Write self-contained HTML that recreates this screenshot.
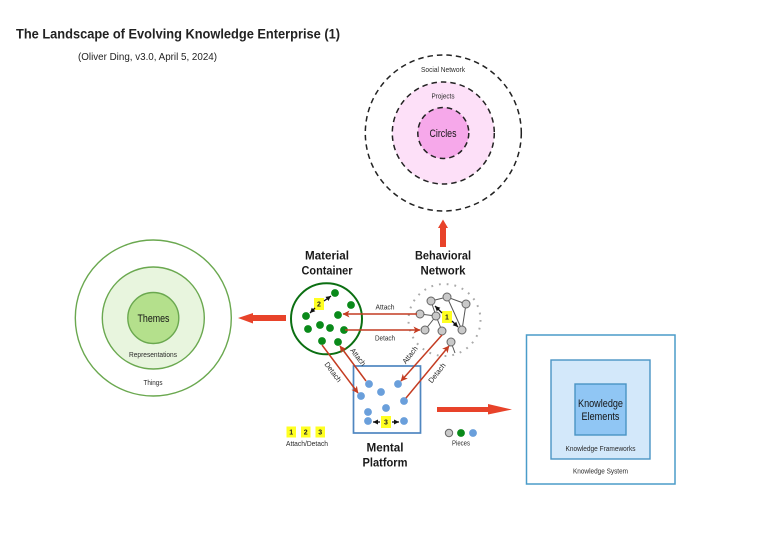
<!DOCTYPE html>
<html><head><meta charset="utf-8"><style>
html,body{margin:0;padding:0;background:#fff}
svg{display:block}
text{font-family:"Liberation Sans",sans-serif;fill:#222}
.h{font-weight:bold;font-size:12px;text-anchor:middle;fill:#1a1a1a}
.s{font-size:7.5px;text-anchor:middle;fill:#2a2a2a}
.c{font-size:11px;text-anchor:middle;fill:#151515}
.n{font-size:7px;text-anchor:middle;fill:#222;font-weight:bold}
.r{stroke:#c43c22;stroke-width:1.5;fill:none;marker-end:url(#ra)}
.b{stroke:#111;stroke-width:1.3;fill:none;marker-end:url(#ba)}
.e{stroke:#555;stroke-width:1;fill:none}
.gr{fill:#c9c9c9;stroke:#666;stroke-width:1}
</style></head><body>
<svg width="770" height="538" viewBox="0 0 770 538" xmlns="http://www.w3.org/2000/svg">
<defs>
<marker id="ra" markerWidth="8" markerHeight="8" refX="6.500" refY="3.500" orient="auto" markerUnits="userSpaceOnUse"><path d="M0,0L7,3.500L0,7L1.800,3.500Z" fill="#c43c22"/></marker>
<marker id="ba" markerWidth="6" markerHeight="6" refX="5" refY="2.500" orient="auto" markerUnits="userSpaceOnUse"><path d="M0,0L5,2.500L0,5Z" fill="#111"/></marker>
</defs>
<rect width="770" height="538" fill="#fff"/>

<text x="16" y="38.500" font-size="14" font-weight="bold" textLength="324" lengthAdjust="spacingAndGlyphs" fill="#111">The Landscape of Evolving Knowledge Enterprise (1)</text>
<text x="78" y="60" font-size="10.5" textLength="139" lengthAdjust="spacingAndGlyphs" fill="#333">(Oliver Ding, v3.0, April 5, 2024)</text>

<!-- top circles -->
<g stroke="#222" stroke-width="1.5" stroke-dasharray="5.500 4">
<circle cx="443.300" cy="133" r="78" fill="#fff"/>
<circle cx="443.300" cy="133" r="51" fill="#fde0f8"/>
<circle cx="443.300" cy="133" r="25.500" fill="#f6a8ea"/>
</g>
<text class="s" x="443" y="72" textLength="44" lengthAdjust="spacingAndGlyphs">Social Network</text>
<text class="s" x="443" y="98.500" textLength="23" lengthAdjust="spacingAndGlyphs">Projects</text>
<text class="c" x="443" y="137" textLength="27" lengthAdjust="spacingAndGlyphs">Circles</text>

<!-- left circles -->
<circle cx="153.300" cy="318" r="78" fill="#fff" stroke="#6aa84f" stroke-width="1.400"/>
<circle cx="153.300" cy="318" r="51" fill="#e8f5de" stroke="#6aa84f" stroke-width="1.400"/>
<circle cx="153.300" cy="318" r="25.500" fill="#b4e08c" stroke="#6aa84f" stroke-width="1.400"/>
<text class="c" x="153.500" y="322" textLength="32" lengthAdjust="spacingAndGlyphs">Themes</text>
<text class="s" x="153" y="357" textLength="48" lengthAdjust="spacingAndGlyphs">Representations</text>
<text class="s" x="153" y="385" textLength="19" lengthAdjust="spacingAndGlyphs">Things</text>

<!-- right boxes -->
<rect x="526.500" y="335" width="148.500" height="149" fill="#fff" stroke="#4a9cc9" stroke-width="1.500"/>
<rect x="551" y="360" width="99" height="99" fill="#d3e8fa" stroke="#4a94c4" stroke-width="1.400"/>
<rect x="575" y="384" width="51" height="51" fill="#90c6f4" stroke="#4a94c4" stroke-width="1.400"/>
<text class="c" x="600.500" y="407" textLength="45" lengthAdjust="spacingAndGlyphs">Knowledge</text>
<text class="c" x="600.500" y="420" textLength="38" lengthAdjust="spacingAndGlyphs">Elements</text>
<text class="s" x="600.500" y="451" textLength="70" lengthAdjust="spacingAndGlyphs">Knowledge Frameworks</text>
<text class="s" x="600.500" y="473.500" textLength="55" lengthAdjust="spacingAndGlyphs">Knowledge System</text>

<!-- big arrows -->
<path d="M440,247V228H438L443,219.500L448,228H446V247Z" fill="#e8432a"/>
<path d="M286,315V321H253V323.500L238,318L253,313V315Z" fill="#e8432a"/>
<path d="M437,407H488V404L512,409.500L488,414.500V412H437Z" fill="#e8432a"/>

<!-- headings -->
<text class="h" x="327" y="259.500" textLength="44" lengthAdjust="spacingAndGlyphs">Material</text>
<text class="h" x="327" y="274.500" textLength="51" lengthAdjust="spacingAndGlyphs">Container</text>
<text class="h" x="443" y="259.500" textLength="56" lengthAdjust="spacingAndGlyphs">Behavioral</text>
<text class="h" x="443" y="274.500" textLength="45" lengthAdjust="spacingAndGlyphs">Network</text>
<text class="h" x="385" y="451.500" textLength="37" lengthAdjust="spacingAndGlyphs">Mental</text>
<text class="h" x="385" y="466.500" textLength="45" lengthAdjust="spacingAndGlyphs">Platform</text>

<!-- behavioral -->
<circle cx="444.500" cy="320" r="36" fill="none" stroke="#aaa" stroke-width="2" stroke-dasharray="1.800 6"/>
<path class="e" d="M431,301L436,316M431,301L447,297L466,304L462,330L447,297M420,314L436,316L425,330M436,316L442,331M451,342L455,353"/>
<g class="gr">
<circle cx="431" cy="301" r="4"/><circle cx="447" cy="297" r="4"/><circle cx="466" cy="304" r="4"/>
<circle cx="420" cy="314" r="4"/><circle cx="436" cy="316" r="4"/><circle cx="425" cy="330" r="4"/>
<circle cx="442" cy="331" r="4"/><circle cx="462" cy="330" r="4"/><circle cx="451" cy="342" r="4"/>
</g>

<!-- material -->
<circle cx="326.500" cy="318.800" r="35.500" fill="#fff" stroke="#0b6f12" stroke-width="2"/>
<g fill="#0a8a1a">
<circle cx="335" cy="293" r="3.900"/><circle cx="351" cy="305" r="3.900"/><circle cx="306" cy="316" r="3.900"/>
<circle cx="338" cy="315" r="3.900"/><circle cx="308" cy="329" r="3.900"/><circle cx="320" cy="325" r="3.900"/>
<circle cx="330" cy="328" r="3.900"/><circle cx="344" cy="330" r="3.900"/><circle cx="322" cy="341" r="3.900"/>
<circle cx="338" cy="342" r="3.900"/>
</g>

<!-- mental -->
<rect x="353.500" y="366" width="67" height="67" fill="#fff" stroke="#4f86c0" stroke-width="1.700"/>
<g fill="#6a9fdb">
<circle cx="369" cy="384" r="3.900"/><circle cx="398" cy="384" r="3.900"/><circle cx="381" cy="392" r="3.900"/>
<circle cx="361" cy="396" r="3.900"/><circle cx="404" cy="401" r="3.900"/><circle cx="386" cy="408" r="3.900"/>
<circle cx="368" cy="412" r="3.900"/><circle cx="368" cy="421" r="3.900"/><circle cx="404" cy="421" r="3.900"/>
</g>

<!-- red connectors -->
<path class="r" d="M417,314H343"/>
<path class="r" d="M345,330H420"/>
<path class="r" d="M322,345L358,393"/>
<path class="r" d="M366,381L340,346"/>
<path class="r" d="M442,335L401,381"/>
<path class="r" d="M406,398L449,346"/>

<!-- yellow tags -->
<g fill="#ffff22">
<rect x="314" y="298" width="10" height="12"/><rect x="442" y="311" width="10" height="12"/><rect x="381" y="416" width="10" height="12"/>
<rect x="286.500" y="426.500" width="9.500" height="11"/><rect x="301" y="426.500" width="9.500" height="11"/><rect x="315.500" y="426.500" width="9.500" height="11"/>
</g>
<text class="n" x="319" y="306.500">2</text>
<text class="n" x="447" y="319.500">1</text>
<text class="n" x="386" y="424.500">3</text>
<text class="n" x="291.200" y="434.500">1</text>
<text class="n" x="305.700" y="434.500">2</text>
<text class="n" x="320.200" y="434.500">3</text>

<!-- black arrows -->
<path class="b" d="M315,308L310,313"/><path class="b" d="M324,301L331,296"/>
<path class="b" d="M442,313L435,306"/><path class="b" d="M452,321L458,327"/>
<path class="b" d="M380,422H373"/><path class="b" d="M392,422H399"/>

<!-- connector labels -->
<text class="s" x="385" y="309.500" textLength="19" lengthAdjust="spacingAndGlyphs">Attach</text>
<text class="s" x="385" y="340.500" textLength="20" lengthAdjust="spacingAndGlyphs">Detach</text>
<text class="s" transform="translate(333,372) rotate(53)" y="2.500" textLength="23" lengthAdjust="spacingAndGlyphs">Detach</text>
<text class="s" transform="translate(358,357) rotate(52)" y="2.500" textLength="20" lengthAdjust="spacingAndGlyphs">Attach</text>
<text class="s" transform="translate(410,355) rotate(-52)" y="2.500" textLength="20" lengthAdjust="spacingAndGlyphs">Attach</text>
<text class="s" transform="translate(437,373) rotate(-52)" y="2.500" textLength="23" lengthAdjust="spacingAndGlyphs">Detach</text>

<!-- legend -->
<text class="s" x="307" y="446" textLength="42" lengthAdjust="spacingAndGlyphs">Attach/Detach</text>
<circle cx="449" cy="433" r="3.700" class="gr"/>
<circle cx="461" cy="433" r="3.900" fill="#0a8a1a"/>
<circle cx="473" cy="433" r="3.900" fill="#6a9fdb"/>
<text class="s" x="461" y="445.500" textLength="18" lengthAdjust="spacingAndGlyphs">Pieces</text>
</svg>
</body></html>
